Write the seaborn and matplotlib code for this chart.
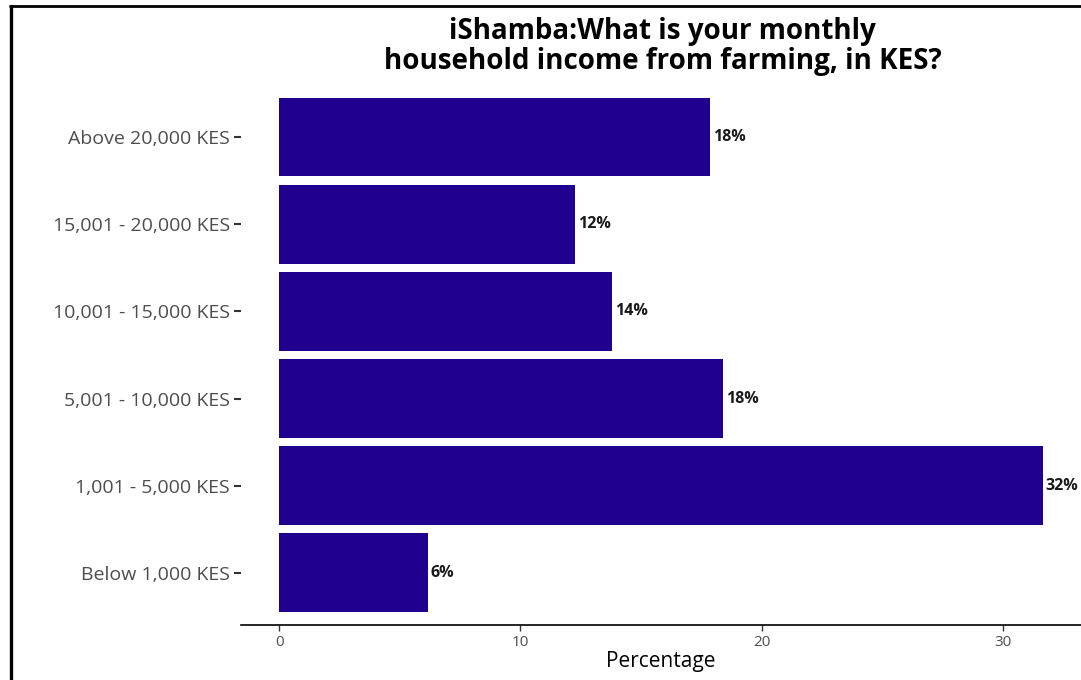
import matplotlib
matplotlib.use("Agg")
import matplotlib.pyplot as plt
from matplotlib.lines import Line2D
import seaborn as sns
import pandas as pd

categories = ["Above 20,000 KES", "15,001 - 20,000 KES", "10,001 - 15,000 KES",
              "5,001 - 10,000 KES", "1,001 - 5,000 KES", "Below 1,000 KES"]
values = [17.86, 12.26, 13.79, 18.4, 31.66, 6.15]
labels = ["18%", "12%", "14%", "18%", "32%", "6%"]
xticks = [0, 10, 20, 30]

sns.set_theme(style="white")
plt.rcParams['font.family'] = ['Open Sans', 'DejaVu Sans']

df = pd.DataFrame({"cat": categories, "val": values})

fig = plt.figure(figsize=(10.81, 6.8), dpi=100)
ax = fig.add_axes([0.2230, 0.081, 0.777, 0.794])
sns.barplot(data=df, y="cat", x="val", order=categories, color="#1F008F",
            saturation=1, width=0.9, linewidth=0, ax=ax)

for i, (v, lab) in enumerate(zip(values, labels)):
    ax.text(v + 0.12, i, lab, va="center", ha="left", fontsize=11.5,
            fontweight="bold", color="#1a1a1a")

ax.set_xlim(-1.58, 33.24)
ax.set_ylim(5.6, -0.6)
ax.set_xticks(xticks)
ax.set_xticklabels([str(t) for t in xticks], fontsize=11, color="#4D4D4D")
ax.tick_params(axis="y", labelsize=14, labelcolor="#4D4D4D", length=5,
               width=1.5, color="#333333", pad=3, left=True)
ax.tick_params(axis="x", length=4, width=1, color="#333333", bottom=True, pad=3)
ax.set_ylabel("")
ax.set_xlabel("Percentage", fontsize=15, color="black", labelpad=1)
for s in ["top", "right", "left"]:
    ax.spines[s].set_visible(False)
ax.spines["bottom"].set_color("black")
ax.spines["bottom"].set_linewidth(1.2)

fig.text(0.613, 0.975, "iShamba:What is your monthly\nhousehold income from farming, in KES?",
         ha="center", va="top", fontsize=20, fontweight="bold", linespacing=1.05,
         color="black")

# frame lines
fig.add_artist(Line2D([0.0102, 0.0102], [0.0, 0.991], transform=fig.transFigure,
                      color="black", linewidth=2.4))
fig.add_artist(Line2D([0.0095, 1.0], [0.991, 0.991], transform=fig.transFigure,
                      color="black", linewidth=2.0))

fig.savefig("out.png", dpi=100)
